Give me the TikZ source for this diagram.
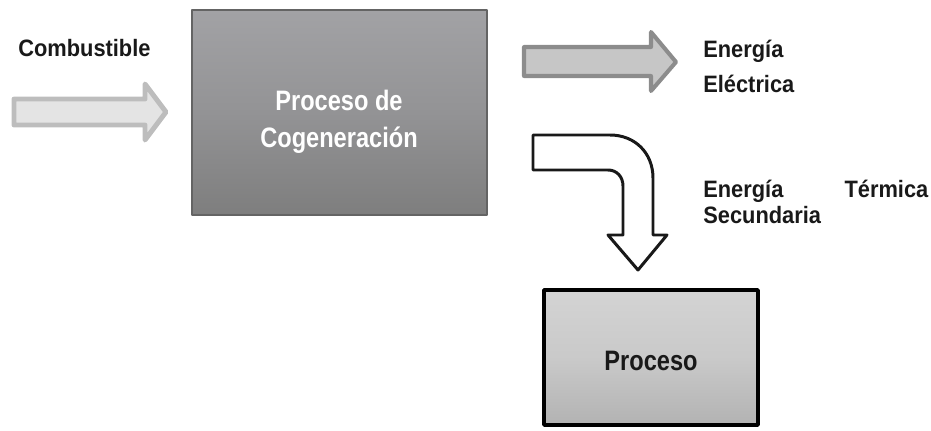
\documentclass[tikz,border=0pt]{standalone}
\usepackage{fontspec}
\setmainfont{Liberation Sans}
\newfontfamily\etiqfont[FakeStretch=0.92]{Liberation Sans}
\newfontfamily\cajafont[FakeStretch=0.84]{Liberation Sans}
\usetikzlibrary{arrows}
\definecolor{cajaarriba}{HTML}{A2A2A5}
\definecolor{cajamedio}{HTML}{939395}
\definecolor{cajaabajo}{HTML}{7E7E7E}
\definecolor{cajaborde}{HTML}{646464}
\definecolor{flechaclara}{HTML}{E4E4E4}
\definecolor{flechaclaraborde}{HTML}{BDBDBD}
\definecolor{flechagris}{HTML}{C6C6C6}
\definecolor{flechagrisborde}{HTML}{8C8C8C}

\begin{document}
\begin{tikzpicture}[line cap=round,line join=round,x=0.02cm,y=-0.02cm,
	etiq/.style={font=\etiqfont\bfseries\fontsize{13.5}{19.8}\selectfont,text=black!90,inner sep=0pt},
	cajatxt/.style={font=\cajafont\bfseries\fontsize{16}{21}\selectfont,inner sep=0pt,align=center}]
				\useasboundingbox (0,0) rectangle (931,430);
				% cajas
				\node (cogen) [draw=cajaborde,line width=0.8pt,top color=cajaarriba,bottom color=cajaabajo,middle color=cajamedio,minimum width=5.9cm,minimum height=4.1cm,inner sep=0pt] at (339.5,112.5) {};
				\node (proceso) [draw=black,line width=2.2pt,top color=black!17,bottom color=black!30,middle color=black!21,minimum width=4.28cm,minimum height=2.7cm,inner sep=0pt] at (651,357.5) {};
				% flechas
				\draw [line width=2.8pt,draw=flechaclaraborde,fill=flechaclara] (14,99)-- (145,99)-- (145,84)-- (166,112)-- (145,140)-- (145,125)-- (14,125)-- cycle;
				\draw [line width=2.3pt,draw=flechagrisborde,fill=flechagris] (524,47)-- (651,47)-- (651,32)-- (676,62)-- (651,91)-- (651,76)-- (524,76)-- cycle;
				\draw [line width=1.7pt,draw=black!90,fill=white] (533,135)-- (610,135) .. controls (635,135) and (653,153) .. (653,178)-- (653,235)-- (667,235)-- (638,270)-- (608,235)-- (623,235)-- (623,186) .. controls (623,177) and (617,170) .. (608,170)-- (533,170)-- cycle;
				% textos
				\node (combustible) [etiq,anchor=base west] at (18,56) {Combustible};
				\node (cogentxt) [cajatxt,text=white,anchor=base] at (339,147) {Proceso de\\Cogeneración};
				\node (electrica) [etiq,anchor=base west,align=left] at (703,92) {Energía\\Eléctrica};
				\node (termica) [etiq,anchor=base west,text width=4.5cm,align=justify,font=\etiqfont\bfseries\fontsize{13.5}{15.3}\selectfont] at (703,197) {Energía \hfill Térmica\\Secundaria};
				\node (procesotxt) [cajatxt,text=black!90,anchor=base] at (651,370) {Proceso};
\end{tikzpicture}
\end{document}
